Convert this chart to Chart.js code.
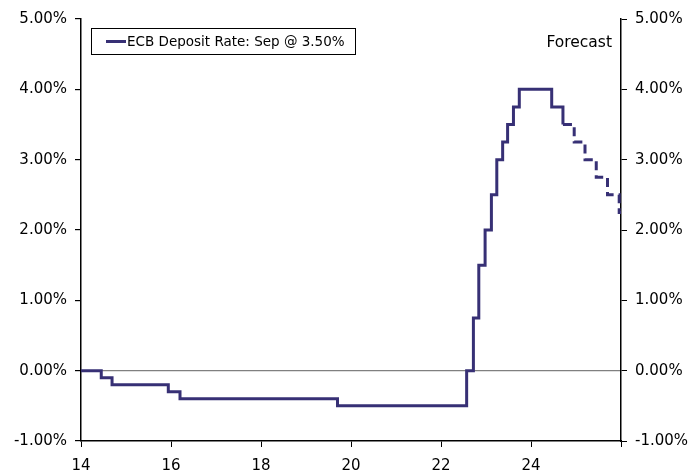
<!DOCTYPE html>
<html>
<head>
<meta charset="utf-8">
<script src="https://cdn.jsdelivr.net/npm/chart.js@4/dist/chart.umd.min.js"></script>
<style>
    html, body { margin: 0; padding: 0; background: #fff; }
    #wrap { width: 693px; height: 472px; }
</style>
</head>
<body>
<div id="wrap"><canvas id="ecb_chart"></canvas></div>
<script>
// start of each rate level, in years (14 = 2014)
var dates = [14.0, 14.45, 14.69, 15.94, 16.2, 19.7, 22.57, 22.72, 22.84, 22.98, 23.12, 23.24, 23.37, 23.48, 23.61, 23.74, 24.46, 24.71, 24.96, 25.2, 25.45, 25.7, 25.96, 26.0];
var rates = [0.00, -0.10, -0.20, -0.30, -0.40, -0.50, 0.00, 0.75, 1.50, 2.00, 2.50, 3.00, 3.25, 3.50, 3.75, 4.00, 3.75, 3.50, 3.25, 3.00, 2.75, 2.50, 2.25, 2.25];
var forecastFrom = 24.71;
var yTicks = [-1, 0, 1, 2, 3, 4, 5];
var xTicks = [14, 16, 18, 20, 22, 24, 26];
var seriesName = "ECB Deposit Rate: Sep @ 3.50%";
var lineColor = "#373075";

function renderEcbChart() {
    var context = document.getElementById("ecb_chart").getContext('2d');

    var points = [];
    for (var i = 0; i < dates.length; i++) {
        points.push({x: dates[i], y: rates[i]});
    }

    var boxPlugin = {
        id: 'boxPlugin',
        afterDraw: function (chart) {
            var ctx = chart.ctx;
            ctx.save();
            ctx.strokeStyle = '#000';
            ctx.lineWidth = 1;
            ctx.strokeRect(91.5, 28.5, 264, 26);
            ctx.strokeStyle = lineColor;
            ctx.lineWidth = 3;
            ctx.beginPath();
            ctx.moveTo(106, 41.5);
            ctx.lineTo(126, 41.5);
            ctx.stroke();
            ctx.fillStyle = '#000';
            ctx.font = '13.5px "DejaVu Sans"';
            ctx.textBaseline = 'middle';
            ctx.fillText(seriesName, 127, 42);
            ctx.font = '15.5px "DejaVu Sans"';
            ctx.textAlign = 'right';
            ctx.fillText("Forecast", 612, 43);
            ctx.restore();
        }
    };

    var tickFont = {family: 'DejaVu Sans', size: 15};

    var myChart = new Chart(context, {
        type: 'line',
        data: {
            datasets: [
                {
                    label: seriesName,
                    data: points,
                    stepped: true,
                    borderColor: lineColor,
                    borderWidth: 3,
                    pointRadius: 0,
                    fill: false,
                    segment: {
                        borderDash: function (ctx) {
                            return ctx.p0.parsed.x >= forecastFrom ? [9, 5] : undefined;
                        }
                    }
                }
            ]
        },
        options: {
            responsive: true,
            maintainAspectRatio: false,
            animation: false,
            layout: {padding: {top: 19, left: 0, right: 0, bottom: 0}},
            plugins: {
                legend: {display: false},
                tooltip: {enabled: false}
            },
            scales: {
                x: {
                    type: 'linear',
                    min: 14,
                    max: 26,
                    afterBuildTicks: function (axis) {
                        axis.ticks = xTicks.map(function (v) { return {value: v}; });
                    },
                    afterFit: function (axis) { axis.height = 31; },
                    ticks: {
                        color: '#000',
                        font: tickFont,
                        padding: 10,
                        maxRotation: 0,
                        autoSkip: false,
                        callback: function (v) { return v === 26 ? '' : String(v); }
                    },
                    grid: {drawOnChartArea: false, color: '#000', tickLength: 6},
                    border: {color: '#000', width: 1.5}
                },
                y: {
                    position: 'left',
                    min: -1,
                    max: 5,
                    afterBuildTicks: function (axis) {
                        axis.ticks = yTicks.map(function (v) { return {value: v}; });
                    },
                    afterFit: function (axis) { axis.width = 81; },
                    ticks: {
                        color: '#000',
                        font: tickFont,
                        padding: 8,
                        callback: function (v) { return v.toFixed(2) + '%'; }
                    },
                    grid: {
                        color: function (ctx) { return ctx.tick && ctx.tick.value === 0 ? '#808080' : 'rgba(0,0,0,0)'; },
                        tickColor: '#000',
                        tickLength: 6,
                        lineWidth: 1.2
                    },
                    border: {color: '#000', width: 1.5}
                },
                y2: {
                    position: 'right',
                    min: -1,
                    max: 5,
                    afterBuildTicks: function (axis) {
                        axis.ticks = yTicks.map(function (v) { return {value: v}; });
                    },
                    afterFit: function (axis) { axis.width = 72; },
                    ticks: {
                        color: '#000',
                        font: tickFont,
                        padding: 8,
                        callback: function (v) { return v.toFixed(2) + '%'; }
                    },
                    grid: {drawOnChartArea: false, color: '#000', tickLength: 6},
                    border: {color: '#000', width: 1.5}
                }
            }
        },
        plugins: [boxPlugin]
    });
}

renderEcbChart();
</script>
</body>
</html>
